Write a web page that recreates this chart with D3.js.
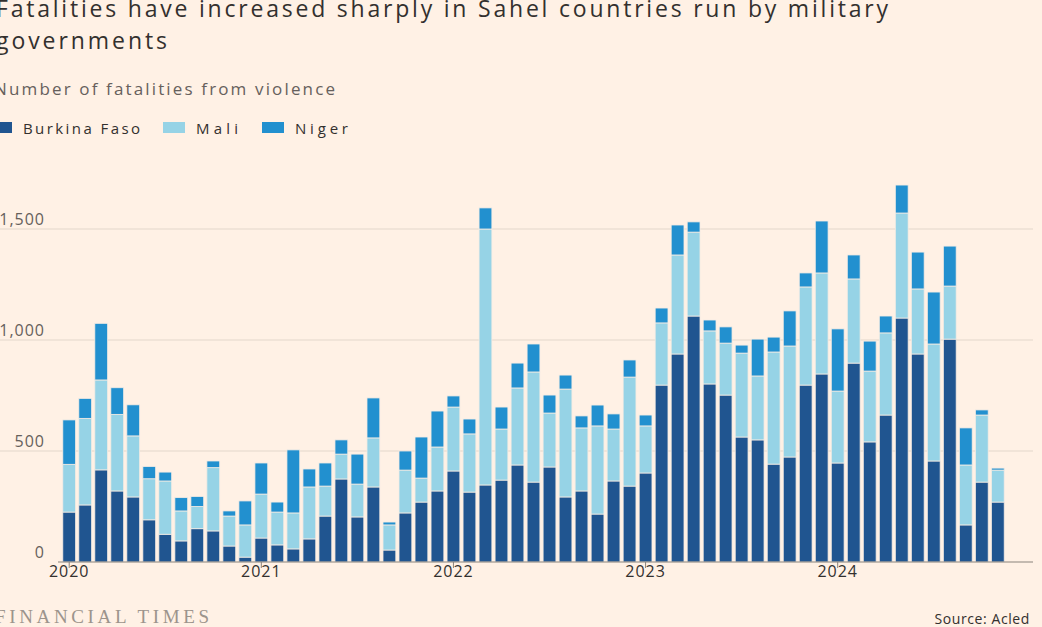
<!DOCTYPE html>
<html>
<head>
<meta charset="utf-8">
<script src="https://cdn.jsdelivr.net/npm/d3@7"></script>
<style>
  body { margin: 0; background: #fff1e5; overflow: hidden; }
  svg { display: block; font-family: "Open Sans", "Noto Sans", sans-serif; }
</style>
</head>
<body>
<svg id="chart" width="1042" height="627"></svg>
<script>
// monthly, Jan 2020 - Nov 2024
var burkina = [225,257,415,320,293,190,125,95,150,140,72,22,
  108,77,59,104,207,374,203,338,54,221,270,320,
  410,315,347,369,437,360,428,293,320,216,365,342,
  401,797,937,1108,802,752,563,550,441,473,797,847,
  446,896,541,662,1099,937,455,1004,167,360,270];
var mali = [215,390,405,345,275,185,240,135,100,285,135,145,
  198,148,162,234,135,112,148,221,113,193,108,198,
  288,262,1153,230,347,496,243,486,284,397,234,491,
  212,280,446,378,239,234,378,288,505,500,442,455,
  324,379,319,370,473,293,527,239,270,302,144];
var niger = [200,90,255,120,140,55,40,60,45,30,23,108,
  140,45,284,81,104,64,135,180,13,86,185,162,
  50,67,95,99,112,126,81,63,54,94,68,77,
  49,67,135,46,49,73,36,166,67,158,63,234,
  280,108,135,76,126,166,234,180,167,23,9];
var seriesNames = ["Burkina Faso", "Mali", "Niger"];
var seriesColors = ["#205590", "#96d3e6", "#2290cf"];
var yTicks = [0, 500, 1000, 1500];
var yearLabels = ["2020", "2021", "2022", "2023", "2024"];

var svg = d3.select("#chart");
var months = burkina.map(function (d, i) { return i; });
var rows = months.map(function (i) {
  return { m: i, "Burkina Faso": burkina[i], "Mali": mali[i], "Niger": niger[i] };
});

var x = d3.scaleBand().domain(months).range([62, 1005]).paddingInner(0.2).paddingOuter(0.05);
var y = d3.scaleLinear().domain([0, 1500]).range([562, 229]);

// titles
svg.append("text").attr("x", -4).attr("y", 17).attr("font-size", 23).attr("fill", "#33302e")
  .attr("textLength", 892).attr("lengthAdjust", "spacing")
  .text("Fatalities have increased sharply in Sahel countries run by military");
svg.append("text").attr("x", -4).attr("y", 49).attr("font-size", 23).attr("fill", "#33302e")
  .attr("textLength", 171).attr("lengthAdjust", "spacing")
  .text("governments");
svg.append("text").attr("x", -6).attr("y", 95).attr("font-size", 17).attr("fill", "#66605c")
  .attr("textLength", 341).attr("lengthAdjust", "spacing")
  .text("Number of fatalities from violence");

// legend
var legX = [-10, 163, 262];
var legLen = [117, 42, 53];
seriesNames.forEach(function (s, i) {
  svg.append("rect").attr("x", legX[i]).attr("y", 122).attr("width", 22).attr("height", 11)
    .attr("fill", seriesColors[i]);
  svg.append("text").attr("x", legX[i] + 33).attr("y", 134).attr("font-size", 15)
    .attr("fill", "#33302e").attr("textLength", legLen[i]).attr("lengthAdjust", "spacing").text(s);
});

// grid
svg.append("g").selectAll("line").data(yTicks.slice(1)).join("line")
  .attr("x1", 0).attr("x2", 1033).attr("y1", function (d) { return y(d); }).attr("y2", function (d) { return y(d); })
  .attr("stroke", "#e3d7cc").attr("stroke-width", 1.2);
svg.append("g").selectAll("text").data(yTicks).join("text")
  .attr("x", 45).attr("y", function (d) { return y(d) - 4; })
  .attr("text-anchor", "end").attr("letter-spacing", 1)
  .attr("font-size", 16).attr("fill", "#66605c")
  .text(function (d) { return d3.format(",")(d); });

// bars
var stack = d3.stack().keys(seriesNames)(rows);
svg.append("g").selectAll("g").data(stack).join("g")
  .attr("fill", function (d, i) { return seriesColors[i]; })
  .selectAll("rect").data(function (d) { return d; }).join("rect")
  .attr("x", function (d) { return x(d.data.m); })
  .attr("width", x.bandwidth())
  .attr("y", function (d) { return y(d[1]); })
  .attr("height", function (d) { return y(d[0]) - y(d[1]); })
  .attr("stroke", "#f4ece4").attr("stroke-width", 0.8);

// baseline and year ticks
svg.append("line").attr("x1", 58).attr("x2", 1033).attr("y1", 562).attr("y2", 562)
  .attr("stroke", "#8a837d").attr("stroke-width", 1.2);
var yearMonths = yearLabels.map(function (d, i) { return i * 12; });
var xAxis = d3.axisBottom(x).tickValues(yearMonths).tickSize(6)
  .tickFormat(function (d) { return yearLabels[d / 12]; });
var ax = svg.append("g").attr("transform", "translate(0,562)").call(xAxis);
ax.select(".domain").remove();
ax.selectAll("line").attr("stroke", "#8a837d");
ax.selectAll("text").attr("font-size", 16).attr("fill", "#33302e").attr("dy", "0.35em")
  .attr("letter-spacing", 1).attr("font-family", "Open Sans, sans-serif");

// footer
svg.append("text").attr("x", -5).attr("y", 623).attr("font-size", 19).attr("fill", "#9c948c")
  .attr("font-family", "Liberation Serif, serif").attr("textLength", 214).attr("lengthAdjust", "spacing")
  .text("FINANCIAL TIMES");
svg.append("text").attr("x", 1030).attr("y", 624).attr("text-anchor", "end").attr("font-size", 14)
  .attr("fill", "#33302e").attr("letter-spacing", 0.6).text("Source: Acled");
</script>
</body>
</html>
